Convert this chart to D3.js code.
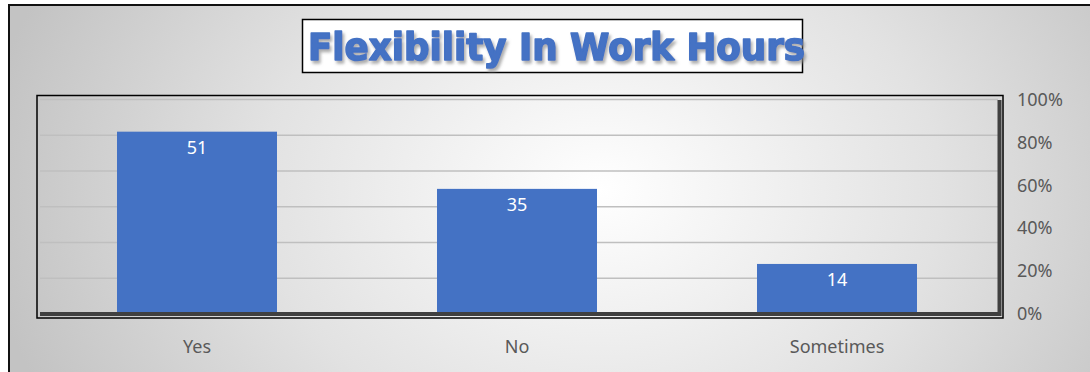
<!DOCTYPE html>
<html>
<head>
<meta charset="utf-8">
<script src="https://cdn.jsdelivr.net/npm/d3@7"></script>
<style>
  body { margin: 0; background: #fff; }
  svg text { font-family: "Noto Sans", "Open Sans", sans-serif; }
</style>
</head>
<body>
<div id="chart"></div>
<script>
// chart data
var categories = ["Yes", "No", "Sometimes"];
var counts = [51, 35, 14];
var countTicks = [0, 10, 20, 30, 40, 50, 60];   // hidden primary axis (gridlines)
var pctTicks = [0, 0.2, 0.4, 0.6, 0.8, 1];
var title = "Flexibility In Work Hours";

var W = 1090, H = 372;
var plot = { left: 37, right: 997, top: 99.5, bottom: 314 };

var svg = d3.select("#chart").append("svg")
    .attr("width", W)
    .attr("height", H);

var defs = svg.append("defs");
var grad = defs.append("radialGradient")
    .attr("id", "bg")
    .attr("gradientUnits", "userSpaceOnUse")
    .attr("cx", 600).attr("cy", 190).attr("r", 620)
    .attr("gradientTransform", "translate(600,190) scale(1,0.75) translate(-600,-190)");
grad.append("stop").attr("offset", "0").attr("stop-color", "#ffffff");
grad.append("stop").attr("offset", "0.55").attr("stop-color", "#e2e2e2");
grad.append("stop").attr("offset", "1").attr("stop-color", "#c3c3c3");

var shadow = defs.append("filter").attr("id", "shadow")
    .attr("x", "-5%").attr("y", "-20%").attr("width", "110%").attr("height", "150%");
shadow.append("feDropShadow")
    .attr("dx", 2).attr("dy", 3).attr("stdDeviation", 1.8)
    .attr("flood-color", "#8c8c8c").attr("flood-opacity", 0.7);

// background + outer border
svg.append("rect")
    .attr("x", 9).attr("y", 5)
    .attr("width", W + 10).attr("height", H + 10)
    .attr("fill", "url(#bg)")
    .attr("stroke", "#111").attr("stroke-width", 2);

// title box
svg.append("rect")
    .attr("x", 302.5).attr("y", 19.5)
    .attr("width", 500).attr("height", 53)
    .attr("fill", "#fff")
    .attr("stroke", "#000").attr("stroke-width", 1.5);
svg.append("text")
    .attr("x", 308).attr("y", 60)
    .attr("textLength", 497)
    .attr("lengthAdjust", "spacingAndGlyphs")
    .attr("font-size", 37)
    .attr("font-weight", "bold")
    .style("font-family", "'DejaVu Sans', sans-serif")
    .attr("fill", "#4472c4")
    .attr("stroke", "#4472c4").attr("stroke-width", 1.6)
    .attr("stroke-linejoin", "round")
    .attr("filter", "url(#shadow)")
    .text(title);

// scales
var x = d3.scaleBand().domain(categories)
    .range([plot.left, plot.right])
    .paddingInner(0.5).paddingOuter(0.25);
var y = d3.scaleLinear().domain([0, d3.max(countTicks)]).range([plot.bottom, plot.top]);
var yPct = d3.scaleLinear().domain([0, 1]).range([plot.bottom, plot.top]);

// plot area frame
svg.append("rect")
    .attr("x", 37).attr("y", 95.5)
    .attr("width", 966).attr("height", 222.5)
    .attr("fill", "none")
    .attr("stroke", "#000").attr("stroke-width", 1.5);

// gridlines from the hidden primary axis
svg.append("g")
    .selectAll("line")
    .data(countTicks.slice(1))
    .join("line")
    .attr("x1", 40).attr("x2", 998)
    .attr("y1", function(d) { return y(d); })
    .attr("y2", function(d) { return y(d); })
    .attr("stroke", "#bfbfbf").attr("stroke-width", 1.5);

// bars
svg.append("g")
    .selectAll("rect")
    .data(counts)
    .join("rect")
    .attr("x", function(d, i) { return x(categories[i]); })
    .attr("width", x.bandwidth())
    .attr("y", function(d) { return y(d); })
    .attr("height", function(d) { return y(0) - y(d); })
    .attr("fill", "#4472c4");

// data labels
svg.append("g")
    .selectAll("text")
    .data(counts)
    .join("text")
    .attr("x", function(d, i) { return x(categories[i]) + x.bandwidth() / 2; })
    .attr("y", function(d) { return y(d) + 22; })
    .attr("text-anchor", "middle")
    .attr("font-size", 18)
    .attr("fill", "#fff")
    .text(function(d) { return d; });

// thick axis lines
svg.append("line")
    .attr("x1", 40).attr("x2", 1001)
    .attr("y1", 314).attr("y2", 314)
    .attr("stroke", "#404040").attr("stroke-width", 4);
svg.append("line")
    .attr("x1", 999.5).attr("x2", 999.5)
    .attr("y1", 100).attr("y2", 316)
    .attr("stroke", "#404040").attr("stroke-width", 4);

// category axis
var xAxis = svg.append("g")
    .attr("transform", "translate(0,330)")
    .call(d3.axisBottom(x).tickSize(0).tickPadding(0));
xAxis.select(".domain").remove();
xAxis.selectAll("text")
    .attr("dy", "0.32em")
    .attr("y", 17)
    .attr("font-size", 18)
    .attr("fill", "#595959")
    .style("font-family", "'Noto Sans', sans-serif");

// right percentage axis
var yAxis = svg.append("g")
    .attr("transform", "translate(1017,0)")
    .call(d3.axisRight(yPct).tickValues(pctTicks).tickFormat(d3.format(".0%")).tickSize(0).tickPadding(0));
yAxis.select(".domain").remove();
yAxis.selectAll("text")
    .attr("font-size", 18)
    .attr("fill", "#595959")
    .style("font-family", "'Noto Sans', sans-serif");
</script>
</body>
</html>
